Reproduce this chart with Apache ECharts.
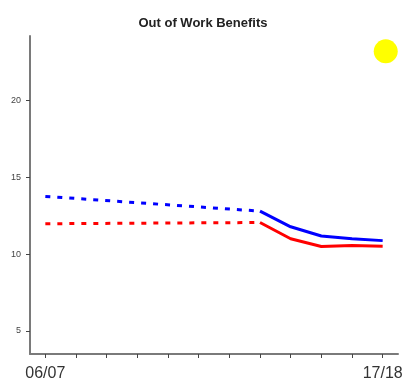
<!DOCTYPE html>
<html><head><meta charset="utf-8">
<script src="https://cdn.jsdelivr.net/npm/echarts@6/dist/echarts.min.js"></script>
<style>html,body{margin:0;padding:0;background:#fff}#c{width:406px;height:385px}</style>
</head><body><div id="c"></div>
<script>
const categories = ['06/07','07/08','08/09','09/10','10/11','11/12','12/13','13/14','14/15','15/16','16/17','17/18'];
const blueDashed = [[0, 13.76], [7, 12.8]];
const blueSolid = [[7, 12.8], [8, 11.78], [9, 11.18], [10, 11.0], [11, 10.88]];
const redDashed = [[0, 11.98], [7, 12.06]];
const redSolid = [[7, 12.06], [8, 11.0], [9, 10.5], [10, 10.57], [11, 10.52]];
const sunPoint = [[11.1, 23.2]];
const yTicks = [5, 10, 15, 20];
const titleText = 'Out of Work Benefits';

const chart = echarts.init(document.getElementById('c'), null, {renderer: 'canvas'});
const axisColor = '#7a7a7a';
chart.setOption({
  animation: false,
  title: {text: titleText, left: 'center', top: 12,
    textStyle: {fontFamily: 'Liberation Sans', fontSize: 13, fontWeight: 'bold', color: '#222'}},
  grid: {left: 30, right: 8, top: 36, bottom: 31},
  xAxis: [{
    type: 'category', data: categories, boundaryGap: true,
    axisLine: {onZero: false, lineStyle: {color: axisColor, width: 2}},
    axisTick: {show: true, interval: 0, alignWithLabel: true, length: 4, lineStyle: {color: '#444', width: 1}},
    axisLabel: {interval: 0, margin: 12, fontFamily: 'Liberation Sans', fontSize: 16, color: '#333',
      formatter: (v, i) => (i === 0 || i === categories.length - 1) ? v : ''}
  }, {
    type: 'value', min: -0.5, max: categories.length - 0.5, show: false
  }],
  yAxis: {
    type: 'value', min: 3.5, max: 24.2,
    splitLine: {show: false},
    axisLine: {show: true, onZero: false, lineStyle: {color: axisColor, width: 2}},
    axisTick: {show: true, length: 4, customValues: yTicks, lineStyle: {color: '#444', width: 1}},
    axisLabel: {customValues: yTicks, margin: 9, fontFamily: 'Liberation Sans', fontSize: 9, color: '#444'}
  },
  series: [
    {type: 'line', data: blueDashed, symbol: 'none', lineStyle: {color: '#0000ff', width: 3, type: [5, 7]}},
    {type: 'line', data: blueSolid, symbol: 'none', lineStyle: {color: '#0000ff', width: 3}},
    {type: 'line', data: redDashed, symbol: 'none', lineStyle: {color: '#ff0000', width: 3, type: [5, 7]}},
    {type: 'line', data: redSolid, symbol: 'none', lineStyle: {color: '#ff0000', width: 3}},
    {type: 'scatter', xAxisIndex: 1, data: sunPoint, symbol: 'circle', symbolSize: 24, itemStyle: {color: '#ffff00', opacity: 1}}
  ]
});
</script></body></html>
